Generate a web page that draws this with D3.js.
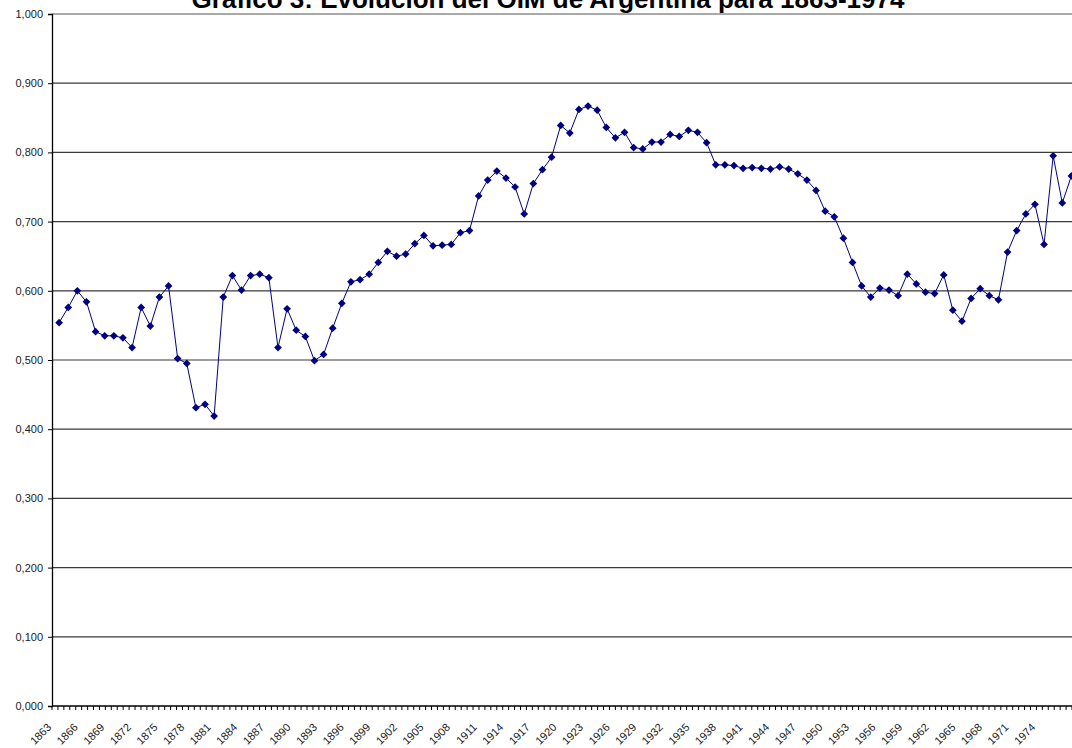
<!DOCTYPE html>
<html>
<head>
  <meta charset="utf-8">
  <title>OIM Argentina</title>
  <script src="https://cdn.jsdelivr.net/npm/d3@7"></script>
  <style>
    body { margin: 0; background: #fff; }
    text { font-family: "Liberation Sans", Arial, sans-serif; }
  </style>
</head>
<body>
  <svg width="1072" height="748" id="mainsvg"></svg>
  <script>
    const title = 'Gráfico 3: Evolución del OIM de Argentina para 1863-1974';
    const years = d3.range(1863, 1975);
    const yTicks = [0, 0.1, 0.2, 0.3, 0.4, 0.5, 0.6, 0.7, 0.8, 0.9, 1.0];
    const labelYears = d3.range(1863, 1975, 3);
    // valores, 1863..1974
    const oim = [
      0.554, 0.576, 0.600, 0.584, 0.541, 0.535, 0.535, 0.532, 0.518, 0.576,
      0.549, 0.591, 0.607, 0.502, 0.495, 0.431, 0.436, 0.419, 0.591, 0.622,
      0.601, 0.622, 0.624, 0.619, 0.518, 0.574, 0.543, 0.534, 0.499, 0.508,
      0.546, 0.582, 0.613, 0.616, 0.624, 0.641, 0.657, 0.650, 0.653, 0.668,
      0.680, 0.665, 0.666, 0.667, 0.684, 0.687, 0.737, 0.760, 0.773, 0.763,
      0.750, 0.711, 0.755, 0.775, 0.793, 0.839, 0.828, 0.862, 0.867, 0.861,
      0.836, 0.821, 0.829, 0.807, 0.805, 0.815, 0.815, 0.826, 0.823, 0.832,
      0.829, 0.814, 0.782, 0.782, 0.781, 0.777, 0.778, 0.777, 0.776, 0.779,
      0.776, 0.769, 0.760, 0.745, 0.715, 0.707, 0.676, 0.641, 0.607, 0.591,
      0.604, 0.601, 0.593, 0.624, 0.610, 0.598, 0.596, 0.623, 0.572, 0.556,
      0.589, 0.603, 0.593, 0.587, 0.656, 0.687, 0.711, 0.725, 0.667, 0.795,
      0.727, 0.766
    ];

    const svg = d3.select('#mainsvg');
    const plotLeft = 52, plotTop = 14, plotBottom = 706, plotRight = 1072;

    const xScale = d3.scaleLinear().domain([1863, 1974]).range([59.1, 1071.4]);
    const xLabel = d3.scaleLinear().domain([1863, 1974]).range([52, 1036]);
    const yScale = d3.scaleLinear().domain([0, 1]).range([plotBottom, plotTop]);
    const fmt = v => d3.format('.3f')(v).replace('.', ',');

    // gridlines
    svg.append('g').selectAll('line').data(yTicks.slice(1)).join('line')
      .attr('x1', plotLeft).attr('x2', plotRight)
      .attr('y1', d => yScale(d)).attr('y2', d => yScale(d))
      .attr('stroke', d => d === 1 ? '#8c8c8c' : '#3a3a3a')
      .attr('stroke-width', d => d === 1 ? 1.5 : 1.2);

    // eje y
    const yAxis = d3.axisLeft(yScale).tickValues(yTicks).tickFormat(fmt)
      .tickSize(4).tickPadding(5);
    const yg = svg.append('g').attr('transform', `translate(${plotLeft},0)`).call(yAxis);
    yg.select('.domain').attr('stroke', '#000').attr('stroke-width', 1.3);
    yg.selectAll('.tick line').attr('stroke', '#000');
    yg.selectAll('.tick text').attr('font-size', 11).attr('fill', '#222')
      .attr('font-family', '"Liberation Sans", Arial, sans-serif');

    // eje x: marcas menores y etiquetas rotadas
    const tickScale = d3.scaleLinear().domain([0, 172]).range([plotLeft, plotRight]);
    svg.append('g').selectAll('line').data(d3.range(0, 173)).join('line')
      .attr('x1', d => tickScale(d)).attr('x2', d => tickScale(d))
      .attr('y1', plotBottom).attr('y2', plotBottom + 4)
      .attr('stroke', '#000');
    svg.append('line')
      .attr('x1', plotLeft).attr('x2', plotRight).attr('y1', plotBottom).attr('y2', plotBottom)
      .attr('stroke', '#000').attr('stroke-width', 1.3);

    svg.append('g').selectAll('text').data(labelYears).join('text')
      .attr('transform', d => `translate(${xLabel(d)},728) rotate(-45)`)
      .attr('text-anchor', 'end')
      .attr('font-size', 11).attr('fill', '#222')
      .text(d => d);

    // serie
    const line = d3.line()
      .x((d, i) => xScale(years[i]))
      .y(d => yScale(d));
    svg.append('path').datum(oim)
      .attr('fill', 'none').attr('stroke', '#000080').attr('stroke-width', 1)
      .attr('d', line);

    const diamond = d3.symbol(d3.symbolSquare, 30);
    svg.append('g').selectAll('path').data(oim).join('path')
      .attr('d', diamond)
      .attr('transform', (d, i) => `translate(${xScale(years[i])},${yScale(d)}) rotate(45)`)
      .attr('fill', '#000080');

    // titulo (cortado arriba como en el original)
    svg.append('text')
      .attr('x', 548).attr('y', 8)
      .attr('text-anchor', 'middle')
      .attr('font-size', 26).attr('font-weight', 'bold').attr('fill', '#000')
      .text(title);
  </script>
</body>
</html>
